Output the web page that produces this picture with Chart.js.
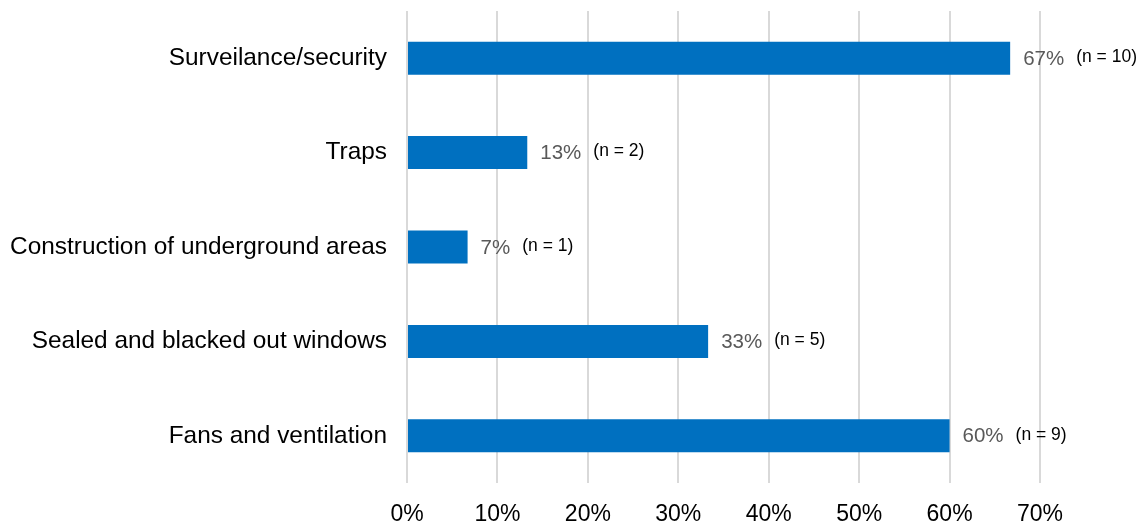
<!DOCTYPE html>
<html>
<head>
<meta charset="utf-8">
<script src="https://cdn.jsdelivr.net/npm/chart.js@4/dist/chart.umd.min.js"></script>
<style>
  html, body { margin: 0; padding: 0; background: #fff; }
  #wrap { width: 1147px; height: 527px; position: relative; }
</style>
</head>
<body>
<div id="wrap"><canvas id="myChart"></canvas></div>
<script>
var categories = ["Surveilance/security", "Traps", "Construction of underground areas",
                  "Sealed and blacked out windows", "Fans and ventilation"];
var percents = [66.7, 13.3, 6.7, 33.3, 60];
var counts = [10, 2, 1, 5, 9];
var xTicks = [0, 10, 20, 30, 40, 50, 60, 70];

var FONT = "'Liberation Sans', Arial, sans-serif";

// percentage + (n = x) next to each bar end
var barLabels = {
  id: "barLabels",
  afterDatasetsDraw: function(chart) {
    var ctx = chart.ctx;
    var meta = chart.getDatasetMeta(0);
    ctx.save();
    ctx.textBaseline = "middle";
    ctx.textAlign = "left";
    meta.data.forEach(function(bar, i) {
      var txt = Math.round(percents[i]) + "%";
      var x = bar.x + 13;
      ctx.font = "20.5px " + FONT;
      ctx.fillStyle = "#595959";
      ctx.fillText(txt, x, bar.y + 1);
      var w = ctx.measureText(txt).width;
      ctx.font = "17.5px " + FONT;
      ctx.fillStyle = "#000";
      ctx.fillText("(n = " + counts[i] + ")", x + w + 12, bar.y - 1);
    });
    ctx.restore();
  }
};

new Chart("myChart", {
  type: "bar",
  data: {
    labels: categories,
    datasets: [{
      data: percents,
      backgroundColor: "#0070c0",
      borderWidth: 0,
      categoryPercentage: 1,
      barPercentage: 0.35
    }]
  },
  options: {
    indexAxis: "y",
    responsive: true,
    maintainAspectRatio: false,
    animation: false,
    layout: { padding: { left: 10, right: 107, top: 11, bottom: 0 } },
    plugins: {
      legend: { display: false },
      tooltip: { enabled: false }
    },
    scales: {
      x: {
        min: 0,
        max: 70,
        afterBuildTicks: function(axis) {
          axis.ticks = xTicks.map(function(v) { return { value: v }; });
        },
        afterFit: function(axis) {
          axis.height = 44;
          axis.paddingLeft = 0;
          axis.paddingRight = 0;
        },
        border: { display: false },
        grid: { color: "#d9d9d9", lineWidth: 2, drawTicks: false },
        ticks: {
          padding: 18,
          color: "#000",
          font: { family: FONT, size: 23 },
          callback: function(v) { return v + "%"; }
        }
      },
      y: {
        afterFit: function(axis) {
          axis.width = 397;
          axis.paddingTop = 0;
          axis.paddingBottom = 0;
        },
        border: { display: false },
        grid: { display: false, drawTicks: false },
        ticks: {
          padding: 20,
          color: "#000",
          font: { family: FONT, size: 24.4 }
        }
      }
    }
  },
  plugins: [barLabels]
});
</script>
</body>
</html>
